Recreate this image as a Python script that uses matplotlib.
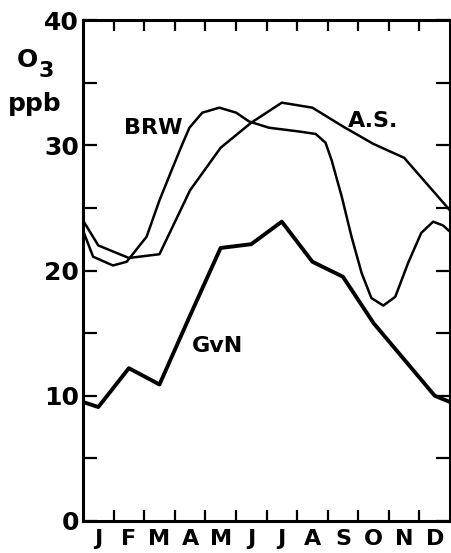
import matplotlib
matplotlib.use("Agg")
import matplotlib.pyplot as plt
import numpy as np

plt.rcParams['font.family'] = ['DejaVu Sans']
plt.rcParams['font.weight'] = 'bold'

months = ["J", "F", "M", "A", "M", "J", "J", "A", "S", "O", "N", "D"]

# monthly means (month centres), plus values at the Jan/Dec edges of the frame
x_monthly = [0, 0.5, 1.5, 2.5, 3.5, 4.5, 5.5, 6.5, 7.5, 8.5, 9.5, 10.5, 11.5, 12]
as_vals = [24.0, 22.0, 21.0, 21.3, 26.4, 29.8, 31.8, 33.4, 33.0, 31.5, 30.1, 29.0, 26.2, 24.8]
gvn_vals = [9.5, 9.1, 12.2, 10.9, 16.4, 21.8, 22.1, 23.9, 20.7, 19.5, 15.8, 12.9, 10.0, 9.5]

brw_x = [0, 0.33, 0.98, 1.43, 2.08, 2.5, 2.93, 3.25, 3.48, 3.9, 4.46, 5.01, 5.43,
         6.08, 7.06, 7.61, 7.93, 8.13, 8.46, 8.78, 9.11, 9.43, 9.82, 10.21, 10.63,
         11.06, 11.45, 11.77, 12.0]
brw_vals = [23.2, 21.1, 20.4, 20.7, 22.7, 25.6, 28.2, 30.1, 31.4, 32.6, 33.0, 32.6, 31.9,
            31.4, 31.1, 30.9, 30.2, 28.8, 25.9, 22.7, 19.8, 17.8, 17.2, 17.9, 20.6,
            23.0, 23.9, 23.6, 23.1]

fig = plt.figure(figsize=(4.52, 5.53), dpi=100)
ax = fig.add_axes([83 / 452, 1 - 521 / 553, 367 / 452, 501 / 553])

ax.plot(x_monthly, as_vals, color="black", lw=1.8, solid_joinstyle="round")
ax.plot(brw_x, brw_vals, color="black", lw=1.8, solid_joinstyle="round")
ax.plot(x_monthly, gvn_vals, color="black", lw=2.8, solid_joinstyle="round")

ax.text(2.31, 31.4, "BRW", fontsize=16, ha="center", va="center")
ax.text(9.5, 31.9, "A.S.", fontsize=16, ha="center", va="center")
ax.text(4.39, 14.0, "GvN", fontsize=16, ha="center", va="center")

ax.set_xlim(0, 12)
ax.set_ylim(0, 40)

ax.set_xticks(range(1, 12))
ax.set_xticklabels([])
ax.set_xticks(np.arange(12) + 0.5, minor=True)
ax.set_xticklabels(months, minor=True, fontsize=16)
ax.tick_params(axis="x", which="major", direction="in", length=8, width=1.6,
               top=True, bottom=True)
ax.tick_params(axis="x", which="minor", length=0, pad=6)

ax.set_yticks([0, 10, 20, 30, 40])
ax.set_yticklabels(["0", "10", "20", "30", "40"], fontsize=18)
ax.set_yticks([5, 15, 25, 35], minor=True)
ax.tick_params(axis="y", which="both", direction="in", length=10, width=1.6,
               left=True, right=True, pad=3)

for s in ax.spines.values():
    s.set_linewidth(2.2)

fig.text(27 / 452, 1 - 60 / 553, "O", fontsize=18, ha="center", va="center")
fig.text(46 / 452, 1 - 71 / 553, "3", fontsize=16, ha="center", va="center")
fig.text(35 / 452, 1 - 104 / 553, "ppb", fontsize=18, ha="center", va="center")

fig.savefig("out.png", dpi=100)
